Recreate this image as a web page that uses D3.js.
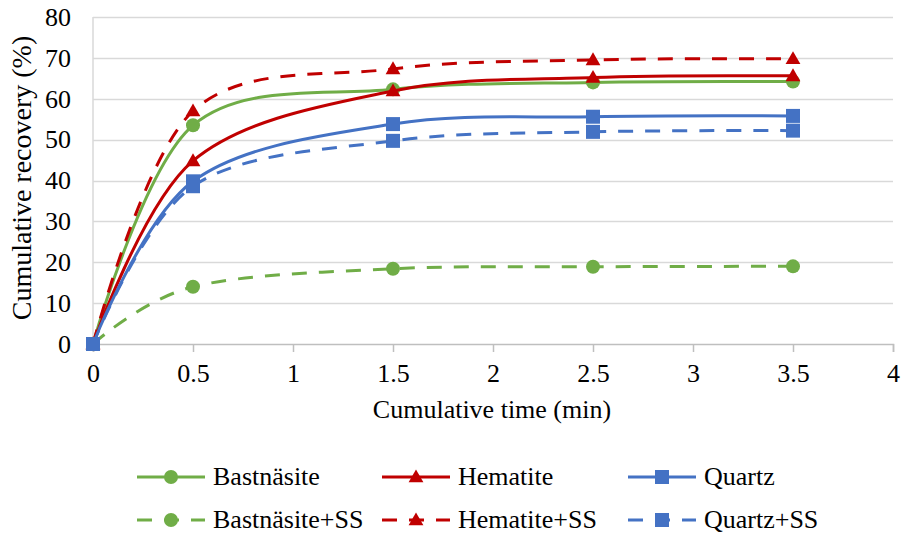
<!DOCTYPE html>
<html>
<head>
<meta charset="utf-8">
<script src="https://cdn.jsdelivr.net/npm/d3@7"></script>
<style>
  html, body { margin: 0; padding: 0; background: #fff; }
  svg { display: block; font-family: "Liberation Serif", "Times New Roman", serif; }
</style>
</head>
<body>
<svg id="chart" width="901" height="536"></svg>
<script>
// ---- Data ----
const times = [0, 0.5, 1.5, 2.5, 3.5];
const bastnasite     = [0, 53.5, 62.3, 64.0, 64.2];
const hematite       = [0, 44.8, 61.9, 65.2, 65.6];
const quartz         = [0, 39.8, 53.8, 55.6, 55.8];
const bastnasiteSS   = [0, 14.0, 18.4, 18.9, 19.0];
const hematiteSS     = [0, 57.0, 67.3, 69.5, 69.8];
const quartzSS       = [0, 38.6, 49.7, 51.9, 52.2];
const seriesNames = ["Bastnäsite", "Hematite", "Quartz", "Bastnäsite+SS", "Hematite+SS", "Quartz+SS"];
const xTicks = [0, 0.5, 1, 1.5, 2, 2.5, 3, 3.5, 4];
const yTicks = [0, 10, 20, 30, 40, 50, 60, 70, 80];
const xTitle = "Cumulative time (min)";
const yTitle = "Cumulative recovery (%)";

const GREEN = "#70AD47", RED = "#C00000", BLUE = "#4472C4";
const series = [
  { name: seriesNames[0], values: bastnasite,   color: GREEN, dashed: false, marker: "circle" },
  { name: seriesNames[1], values: hematite,     color: RED,   dashed: false, marker: "triangle" },
  { name: seriesNames[2], values: quartz,       color: BLUE,  dashed: false, marker: "square" },
  { name: seriesNames[3], values: bastnasiteSS, color: GREEN, dashed: true,  marker: "circle" },
  { name: seriesNames[4], values: hematiteSS,   color: RED,   dashed: true,  marker: "triangle" },
  { name: seriesNames[5], values: quartzSS,     color: BLUE,  dashed: true,  marker: "square" }
];

const svg = d3.select("#chart");
const x = d3.scaleLinear().domain([0, 4]).range([93, 893]);
const y = d3.scaleLinear().domain([0, 80]).range([344, 17]);
const DASH = "15,12";
const FS = 26;

// gridlines
svg.append("g").selectAll("line").data(yTicks.filter(d => d > 0)).join("line")
  .attr("x1", x(0)).attr("x2", x(4))
  .attr("y1", d => Math.round(y(d)) + 0.5).attr("y2", d => Math.round(y(d)) + 0.5)
  .attr("stroke", "#D9D9D9").attr("stroke-width", 1.5);

// y axis line (light)
svg.append("line").attr("x1", x(0)).attr("x2", x(0)).attr("y1", y(80)).attr("y2", y(0))
  .attr("stroke", "#D9D9D9").attr("stroke-width", 1.5);

// x axis
const xAxis = d3.axisBottom(x).tickValues(xTicks).tickSize(8).tickPadding(12)
  .tickFormat(d => String(d));
const gx = svg.append("g").attr("transform", `translate(0,${y(0)})`).call(xAxis);
gx.select(".domain").attr("stroke", "#BFBFBF").attr("stroke-width", 1.5);
gx.selectAll(".tick line").attr("stroke", "#BFBFBF").attr("stroke-width", 1.5);
gx.selectAll(".tick text").attr("font-size", FS).attr("fill", "#000")
  .attr("font-family", "Liberation Serif, Times New Roman, serif");

// y axis labels
const yAxis = d3.axisLeft(y).tickValues(yTicks).tickSize(0).tickPadding(22);
const gy = svg.append("g").attr("transform", `translate(${x(0)},0)`).call(yAxis);
gy.select(".domain").remove();
gy.selectAll(".tick text").attr("font-size", FS).attr("fill", "#000")
  .attr("font-family", "Liberation Serif, Times New Roman, serif");

// titles
svg.append("text").attr("x", 492).attr("y", 418).attr("text-anchor", "middle")
  .attr("font-size", FS).text(xTitle);
svg.append("text").attr("transform", "translate(31,178) rotate(-90)")
  .attr("text-anchor", "middle").attr("font-size", 28).text(yTitle);

// marker drawing
function drawMarker(g, type, cx, cy, color) {
  if (type === "circle") {
    g.append("circle").attr("cx", cx).attr("cy", cy).attr("r", 7).attr("fill", color);
  } else if (type === "square") {
    g.append("rect").attr("x", cx - 7).attr("y", cy - 7).attr("width", 14).attr("height", 14).attr("fill", color);
  } else {
    const s = d3.symbol().type(d3.symbolTriangle).size(95);
    g.append("path").attr("d", s()).attr("transform", `translate(${cx},${cy + 1})`).attr("fill", color);
  }
}

const line = d3.line().x(d => x(d[0])).y(d => y(d[1])).curve(d3.curveCardinal.tension(0));
const plot = svg.append("g");
series.forEach(s => {
  const pts = times.map((t, i) => [t, s.values[i]]);
  const g = plot.append("g");
  g.append("path").attr("d", line(pts)).attr("fill", "none")
    .attr("stroke", s.color).attr("stroke-width", 3)
    .attr("stroke-dasharray", s.dashed ? DASH : null);
  pts.forEach(p => drawMarker(g, s.marker, x(p[0]), y(p[1]), s.color));
});

// legend
const legCols = [137, 382, 628];
const legRows = [477, 520];
series.forEach((s, i) => {
  const lx = legCols[i % 3], ly = legRows[Math.floor(i / 3)];
  const g = svg.append("g");
  g.append("line").attr("x1", lx).attr("x2", lx + 68).attr("y1", ly).attr("y2", ly)
    .attr("stroke", s.color).attr("stroke-width", 3)
    .attr("stroke-dasharray", s.dashed ? DASH : null);
  drawMarker(g, s.marker, lx + 34, ly, s.color);
  g.append("text").attr("x", lx + 76).attr("y", ly + 8).attr("font-size", FS).text(s.name);
});
</script>
</body>
</html>
